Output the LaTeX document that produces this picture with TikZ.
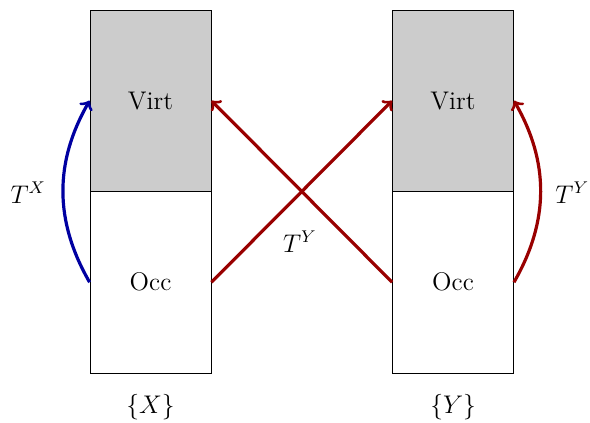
\documentclass[tikz,border=0pt]{standalone}
\usetikzlibrary{arrows}

\begin{document}
\begin{tikzpicture}[
    font=\large,
    part/.style={draw, thin, minimum width=2cm, minimum height=3cm, inner sep=0pt},
    virtpart/.style={part, fill=gray!40},
    exc/.style={->, line width=1.5pt},
  ]
  \useasboundingbox (-1.488, -0.826) rectangle (8.264, 6.165);

  % reference X: occupied below, virtual above
  \node[part] (occX) at (1, 1.5) {Occ};
  \node[virtpart] (virtX) at (1, 4.5) {Virt};
  \node (labX) at (1, -0.56) {$\{X\}$};

  % reference Y
  \node[part] (occY) at (6, 1.5) {Occ};
  \node[virtpart] (virtY) at (6, 4.5) {Virt};
  \node (labY) at (6, -0.56) {$\{Y\}$};

  % excitations within X
  \draw[exc, blue!63!black] (occX.west) to[bend left=30] (virtX.west);
  \node (tX) at (-1.02, 2.98) {$T^X$};

  % excitations within Y
  \draw[exc, red!60!black] (occY.east) to[bend right=30] (virtY.east);
  \node (tYr) at (7.97, 2.98) {$T^Y$};

  % crossing excitations
  \draw[exc, red!60!black] (occX.east) -- (virtY.west);
  \draw[exc, red!60!black] (occY.west) -- (virtX.east);
  \node (tYm) at (3.47, 2.17) {$T^Y$};
\end{tikzpicture}
\end{document}
